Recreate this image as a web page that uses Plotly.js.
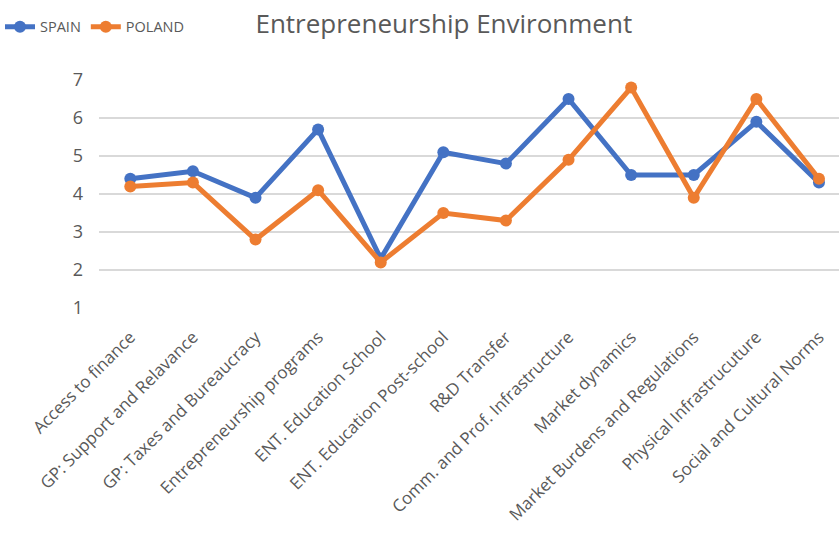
<!DOCTYPE html>
<html>
<head>
<meta charset="utf-8">
<script src="https://cdn.plot.ly/plotly-3.0.1.min.js"></script>
<style>html,body{margin:0;padding:0;background:#fff;}#chart{width:839px;height:536px;}</style>
</head>
<body>
<div id="chart"></div>
<script>
const categories = [
  "Access to finance",
  "GP: Support and Relavance",
  "GP: Taxes and Bureaucracy",
  "Entrepreneurship programs",
  "ENT. Education School",
  "ENT. Education Post-school",
  "R&D Transfer",
  "Comm. and Prof. Infrastructure",
  "Market dynamics",
  "Market Burdens and Regulations",
  "Physical Infrastrucuture",
  "Social and Cultural Norms"
];
const spain = [4.4, 4.6, 3.9, 5.7, 2.3, 5.1, 4.8, 6.5, 4.5, 4.5, 5.9, 4.3];
const poland = [4.2, 4.3, 2.8, 4.1, 2.2, 3.5, 3.3, 4.9, 6.8, 3.9, 6.5, 4.4];
const yTicks = [1, 2, 3, 4, 5, 6, 7];

const FONT = "Open Sans, Noto Sans, sans-serif";
const GREY = "#595959";

const traces = [
  {x: categories, y: spain, name: "SPAIN", type: "scatter", mode: "lines+markers",
   line: {color: "#4472C4", width: 5}, marker: {color: "#4472C4", size: 12}, cliponaxis: false},
  {x: categories, y: poland, name: "POLAND", type: "scatter", mode: "lines+markers",
   line: {color: "#ED7D31", width: 5}, marker: {color: "#ED7D31", size: 12}, cliponaxis: false}
];

const layout = {
  width: 839, height: 536,
  margin: {l: 99, r: 0, t: 80, b: 228},
  paper_bgcolor: "#fff", plot_bgcolor: "#fff",
  font: {family: FONT, color: GREY},
  title: {text: "Entrepreneurship Environment", font: {family: FONT, size: 26, color: GREY},
          xref: "container", yref: "container", x: 0.529, xanchor: "center", y: 0.955, yanchor: "middle"},
  showlegend: true,
  legend: {orientation: "h", xref: "container", yref: "container", x: 0.0, xanchor: "left", y: 0.95, yanchor: "middle",
           font: {family: FONT, size: 14.5, color: GREY}, itemwidth: 30, tracegroupgap: 0, bgcolor: "rgba(0,0,0,0)"},
  xaxis: {type: "category", range: [-0.5, 11.32], showgrid: false, zeroline: false, showline: false,
          ticks: "", tickangle: -45, ticklabelstandoff: 15, tickfont: {family: FONT, size: 17, color: GREY}, automargin: false},
  yaxis: {range: [1, 7], tickvals: yTicks, ticktext: yTicks.map(String), showgrid: true, gridcolor: "#d9d9d9", gridwidth: 1.5,
          zeroline: false, showline: false, ticks: "", ticklabelstandoff: 15,
          tickfont: {family: FONT, size: 18, color: GREY}, automargin: false}
};

Plotly.newPlot("chart", traces, layout, {displayModeBar: false, staticPlot: true});
</script>
</body>
</html>
